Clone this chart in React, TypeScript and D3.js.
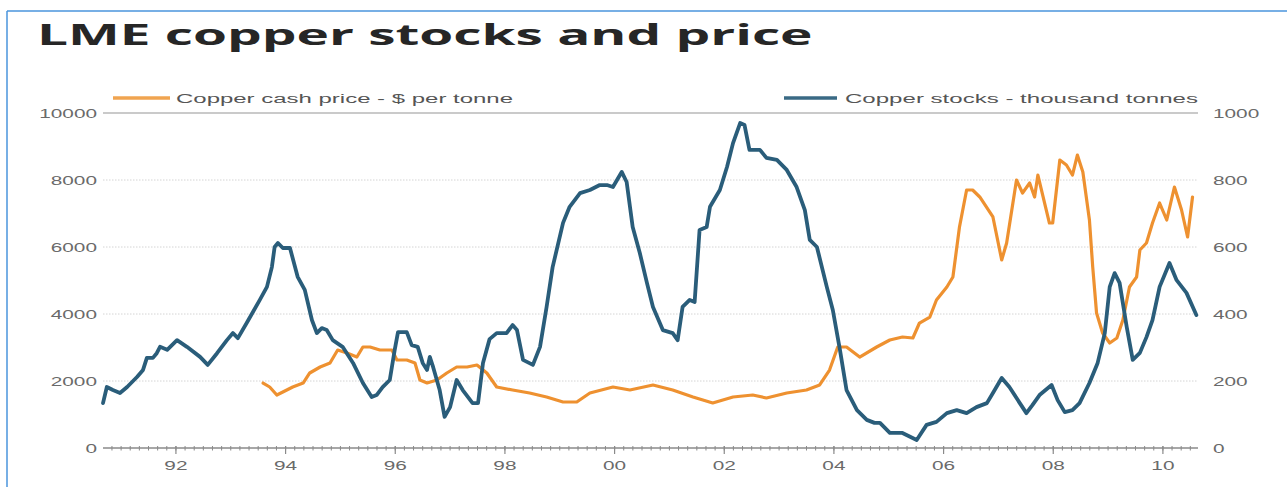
import { useRef, useLayoutEffect } from 'react';
import * as d3 from 'd3';

// Copper cash price, $ per tonne (left axis)
const priceYears = [
    1993.59, 1993.71, 1993.84, 1993.95, 1994.13, 1994.32, 1994.44, 1994.63, 1994.81, 1994.95,
    1995.12, 1995.3, 1995.41, 1995.54, 1995.72, 1995.94, 1996.03, 1996.21, 1996.36, 1996.45,
    1996.58, 1996.76, 1996.94, 1997.12, 1997.31, 1997.49, 1997.67, 1997.85, 1998.14, 1998.45,
    1998.76, 1999.06, 1999.31, 1999.55, 1999.97, 2000.28, 2000.7, 2001.06, 2001.43, 2001.79,
    2002.16, 2002.52, 2002.77, 2003.14, 2003.5, 2003.74, 2003.92, 2004.07, 2004.23, 2004.47,
    2004.78, 2005.02, 2005.25, 2005.44, 2005.56, 2005.75, 2005.87, 2006.06, 2006.17, 2006.29,
    2006.42, 2006.53, 2006.66, 2006.9, 2007.06, 2007.15, 2007.33, 2007.44, 2007.57, 2007.66,
    2007.72, 2007.93, 2007.99, 2008.12, 2008.24, 2008.35, 2008.44, 2008.54, 2008.66, 2008.72,
    2008.79, 2008.9, 2009.03, 2009.16, 2009.27, 2009.39, 2009.52, 2009.58, 2009.7, 2009.81,
    2009.94, 2010.07, 2010.21, 2010.34, 2010.45, 2010.54,
];
const priceValues = [
    1940, 1821, 1582, 1672, 1821, 1940, 2239, 2418, 2537, 2925,
    2836, 2716, 3015, 3015, 2925, 2925, 2627, 2627, 2537, 2030,
    1940, 2030, 2239, 2418, 2418, 2478, 2239, 1821, 1731, 1642,
    1522, 1373, 1373, 1642, 1821, 1731, 1881, 1731, 1522, 1343,
    1522, 1582, 1493, 1642, 1731, 1881, 2328, 3015, 3015, 2716,
    3015, 3224, 3313, 3284, 3731, 3910, 4418, 4806, 5104, 6597,
    7701, 7701, 7493, 6896, 5612, 6119, 8000, 7612, 7910, 7493,
    8149, 6716, 6716, 8597, 8448, 8149, 8746, 8239, 6806, 5403,
    4030, 3433, 3134, 3284, 3821, 4806, 5104, 5910, 6119, 6716,
    7313, 6806, 7791, 7104, 6299, 7493,
];

// Copper stocks, thousand tonnes (right axis)
const stockYears = [
    1990.67, 1990.74, 1990.85, 1990.98, 1991.11, 1991.29, 1991.4, 1991.47, 1991.58, 1991.65,
    1991.71, 1991.84, 1992.02, 1992.2, 1992.44, 1992.58, 1992.75, 1992.93, 1993.04, 1993.13,
    1993.29, 1993.53, 1993.66, 1993.75, 1993.8, 1993.86, 1993.95, 1994.08, 1994.22, 1994.35,
    1994.48, 1994.57, 1994.66, 1994.75, 1994.86, 1995.04, 1995.23, 1995.41, 1995.57, 1995.66,
    1995.77, 1995.9, 1995.99, 1996.05, 1996.21, 1996.3, 1996.41, 1996.5, 1996.58, 1996.63,
    1996.69, 1996.81, 1996.9, 1997.0, 1997.12, 1997.23, 1997.41, 1997.51, 1997.6, 1997.72,
    1997.85, 1998.03, 1998.14, 1998.22, 1998.33, 1998.51, 1998.64, 1998.76, 1998.87, 1999.06,
    1999.18, 1999.37, 1999.55, 1999.73, 1999.86, 1999.97, 2000.13, 2000.22, 2000.33, 2000.46,
    2000.59, 2000.7, 2000.88, 2001.06, 2001.15, 2001.24, 2001.37, 2001.46, 2001.55, 2001.68,
    2001.74, 2001.92, 2002.05, 2002.16, 2002.29, 2002.37, 2002.46, 2002.65, 2002.77, 2002.96,
    2003.14, 2003.32, 2003.47, 2003.56, 2003.69, 2003.87, 2003.98, 2004.11, 2004.23, 2004.42,
    2004.6, 2004.74, 2004.84, 2005.02, 2005.25, 2005.51, 2005.69, 2005.87, 2006.06, 2006.24,
    2006.42, 2006.6, 2006.79, 2006.9, 2007.06, 2007.2, 2007.39, 2007.51, 2007.62, 2007.75,
    2007.97, 2008.08, 2008.21, 2008.35, 2008.48, 2008.66, 2008.81, 2008.94, 2009.03, 2009.12,
    2009.21, 2009.34, 2009.45, 2009.58, 2009.7, 2009.81, 2009.94, 2010.12, 2010.25, 2010.43,
    2010.61,
];
const stockValues = [
    134, 182, 173, 164, 182, 212, 233, 269, 269, 283,
    302, 293, 322, 302, 272, 248, 283, 322, 343, 328,
    373, 442, 481, 540, 600, 612, 597, 597, 511, 472,
    382, 343, 358, 352, 322, 302, 254, 194, 152, 158,
    182, 203, 293, 346, 346, 307, 302, 254, 233, 272,
    242, 173, 93, 122, 203, 173, 134, 134, 254, 325,
    343, 343, 367, 352, 263, 248, 302, 421, 540, 672,
    720, 761, 770, 785, 785, 779, 824, 794, 660, 582,
    493, 421, 352, 343, 322, 421, 442, 436, 651, 660,
    720, 770, 839, 910, 970, 964, 890, 890, 866, 860,
    830, 779, 710, 621, 600, 481, 412, 293, 173, 113,
    84, 75, 75, 45, 45, 24, 69, 78, 104, 113,
    104, 122, 134, 164, 209, 182, 134, 104, 128, 158,
    188, 143, 107, 113, 134, 194, 254, 343, 481, 522,
    493, 361, 263, 284, 331, 382, 481, 552, 501, 463,
    397,
];

const priceTicks = [0, 2000, 4000, 6000, 8000, 10000];
const stockTicks = [0, 200, 400, 600, 800, 1000];
const yearTicks = [1992, 1994, 1996, 1998, 2000, 2002, 2004, 2006, 2008, 2010];
const yearLabels = ['92', '94', '96', '98', '00', '02', '04', '06', '08', '10'];

const W = 1287;
const H = 487;
const LABEL_FONT = '"Liberation Sans", Arial, sans-serif';
const SX = 1.6; // the source image is stretched sideways
const TITLE_WIDTH = 776;

export default function App() {
    const titleRef = useRef<SVGTextElement>(null);

    // stretch the title sideways to the width it has in the picture
    useLayoutEffect(() => {
        const t = titleRef.current;
        if (!t) return;
        const w = t.getComputedTextLength() || 1;
        t.setAttribute('transform', `translate(37,45) scale(${TITLE_WIDTH / w},1)`);
    }, []);

    const x = d3.scaleLinear().domain([1990.67, 2010.64]).range([103, 1198]);
    const yPrice = d3.scaleLinear().domain([0, 10000]).range([448, 113]);
    const yStock = d3.scaleLinear().domain([0, 1000]).range([448, 113]);

    const priceLine = d3.line<number>()
        .x((_, i) => x(priceYears[i]))
        .y(d => yPrice(d));
    const stockLine = d3.line<number>()
        .x((_, i) => x(stockYears[i]))
        .y(d => yStock(d));

    const minorTicks = d3.range(1990 + 10 / 12, 2010.64, 1 / 6)
        .filter(t => t >= x.domain()[0] && t <= x.domain()[1]);
    const axisY = yPrice(0);

    return (
        <svg width={W} height={H} style={{ position: 'absolute', left: 0, top: 0, background: '#fff' }}>
            {/* page frame */}
            <line x1={7} y1={11} x2={W} y2={11} stroke="#4a94dc" strokeWidth={1.5} />
            <line x1={7} y1={11} x2={7} y2={H} stroke="#4a94dc" strokeWidth={1.5} />

            <text ref={titleRef} transform="translate(37,45)" fontFamily='"Open Sans", sans-serif'
                fontWeight="bold" fontSize={29} fill="#262626">
                LME copper stocks and price
            </text>

            {/* grid */}
            {priceTicks.slice(1).map(t => (
                <line key={t} x1={103} x2={1198} y1={yPrice(t)} y2={yPrice(t)}
                    stroke={t === 10000 ? '#b8b8b8' : '#d4d4d4'}
                    strokeWidth={t === 10000 ? 1.5 : 1}
                    strokeDasharray={t === 10000 ? undefined : '1.5,1.5'} />
            ))}

            {/* x axis */}
            <line x1={103} x2={1198} y1={axisY} y2={axisY} stroke="#8a8a8a" strokeWidth={1.3} />
            {minorTicks.map((t, i) => (
                <line key={i} x1={x(t)} x2={x(t)} y1={axisY - 2} y2={axisY + 2.5} stroke="#8a8a8a" strokeWidth={1} />
            ))}
            {yearTicks.map((t, i) => (
                <g key={t}>
                    <line x1={x(t)} x2={x(t)} y1={axisY - 2} y2={axisY + 6} stroke="#8a8a8a" strokeWidth={1.2} />
                    <text transform={`translate(${x(t)},${axisY + 22}) scale(${SX},1)`} textAnchor="middle"
                        fontFamily={LABEL_FONT} fontSize={13} fill="#6a6a6a">{yearLabels[i]}</text>
                </g>
            ))}

            {/* left axis labels */}
            {priceTicks.map(t => (
                <text key={t} transform={`translate(97,${yPrice(t) + 5}) scale(${SX},1)`} textAnchor="end"
                    fontFamily={LABEL_FONT} fontSize={13} fill="#6a6a6a">{t}</text>
            ))}
            {/* right axis labels */}
            {stockTicks.map(t => (
                <text key={t} transform={`translate(1213,${yStock(t) + 5}) scale(${SX},1)`} textAnchor="start"
                    fontFamily={LABEL_FONT} fontSize={13} fill="#6a6a6a">{t}</text>
            ))}

            {/* series */}
            <path d={priceLine(priceValues) || ''} fill="none" stroke="#ee9130" strokeWidth={3.2}
                strokeLinejoin="round" strokeLinecap="round" />
            <path d={stockLine(stockValues) || ''} fill="none" stroke="#2a5d7a" strokeWidth={3.8}
                strokeLinejoin="round" strokeLinecap="round" />

            {/* legend */}
            <line x1={113} x2={170} y1={98} y2={98} stroke="#f0a450" strokeWidth={3.5} />
            <text x={176} y={103} fontFamily={LABEL_FONT} fontSize={12.5} fill="#555"
                textLength={337} lengthAdjust="spacingAndGlyphs">Copper cash price - $ per tonne</text>
            <line x1={784} x2={837} y1={98} y2={98} stroke="#3a6a85" strokeWidth={3.5} />
            <text x={845} y={103} fontFamily={LABEL_FONT} fontSize={12.5} fill="#555"
                textLength={353} lengthAdjust="spacingAndGlyphs">Copper stocks - thousand tonnes</text>
        </svg>
    );
}
